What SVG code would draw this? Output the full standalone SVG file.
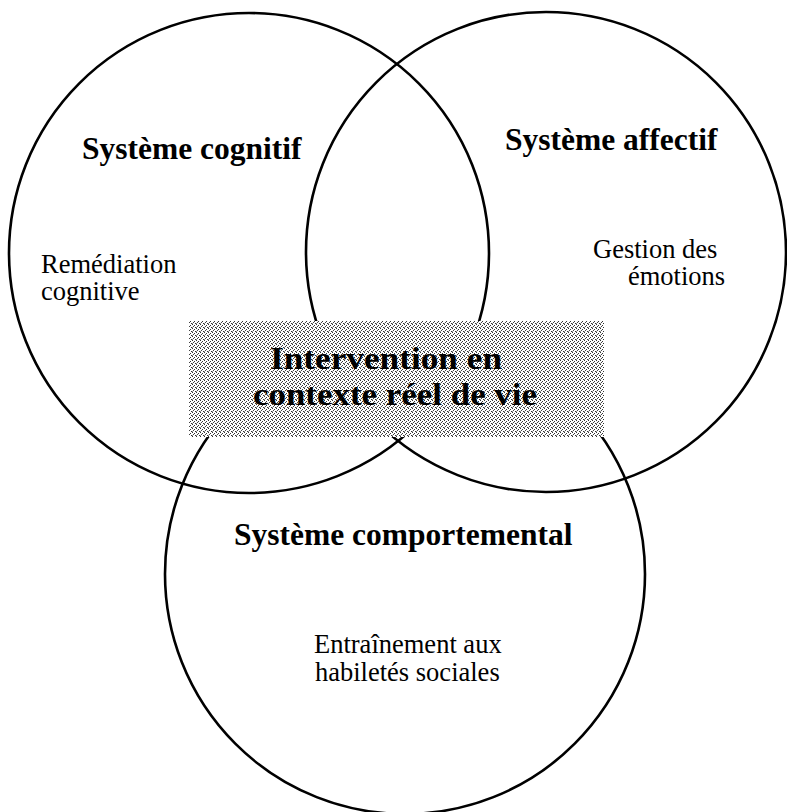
<svg xmlns="http://www.w3.org/2000/svg" width="787" height="812" viewBox="0 0 787 812">
  <defs>
    <pattern id="stipple" x="0" y="0" width="4" height="4" patternUnits="userSpaceOnUse">
      <rect width="4" height="4" fill="#ffffff"/>
      <rect x="0" y="0" width="1" height="1" fill="#333"/>
      <rect x="2" y="1" width="1" height="1" fill="#333"/>
      <rect x="1" y="2" width="1" height="1" fill="#444"/>
      <rect x="3" y="3" width="1" height="1" fill="#333"/>
      <rect x="0" y="3" width="1" height="1" fill="#999"/>
    </pattern>
  </defs>
  <style>
    .ring { fill: none; stroke: #000; stroke-width: 2.6; }
    .head { font-family: "Liberation Serif", "Times New Roman", serif; font-weight: bold; font-size: 31.5px; fill: #000; }
    .body { font-family: "Liberation Serif", "Times New Roman", serif; font-size: 26.5px; fill: #000; }
    .core { font-family: "Liberation Serif", "Times New Roman", serif; font-weight: bold; font-size: 32px; fill: #000; }
  </style>
  <rect width="787" height="812" fill="#ffffff"/>

  <g id="cognitif">
    <circle class="ring" cx="249" cy="253" r="240"/>
    <text class="head" x="82" y="159">Système cognitif</text>
    <text class="body" x="41" y="273">Remédiation</text>
    <text class="body" x="41" y="300">cognitive</text>
  </g>

  <g id="affectif">
    <circle class="ring" cx="546" cy="252" r="240"/>
    <text class="head" x="505" y="150">Système affectif</text>
    <text class="body" x="593" y="258">Gestion des</text>
    <text class="body" x="628" y="285">émotions</text>
  </g>

  <g id="comportemental">
    <circle class="ring" cx="405" cy="574" r="240"/>
    <text class="head" x="234" y="545">Système comportemental</text>
    <text class="body" x="314" y="653">Entraînement aux</text>
    <text class="body" x="315" y="681">habiletés sociales</text>
  </g>

  <g id="intervention">
    <rect x="189" y="321" width="415" height="116" fill="url(#stipple)"/>
    <text class="core" x="270" y="369" textLength="232" lengthAdjust="spacingAndGlyphs">Intervention en</text>
    <text class="core" x="253" y="405" textLength="284" lengthAdjust="spacingAndGlyphs">contexte réel de vie</text>
  </g>
</svg>
